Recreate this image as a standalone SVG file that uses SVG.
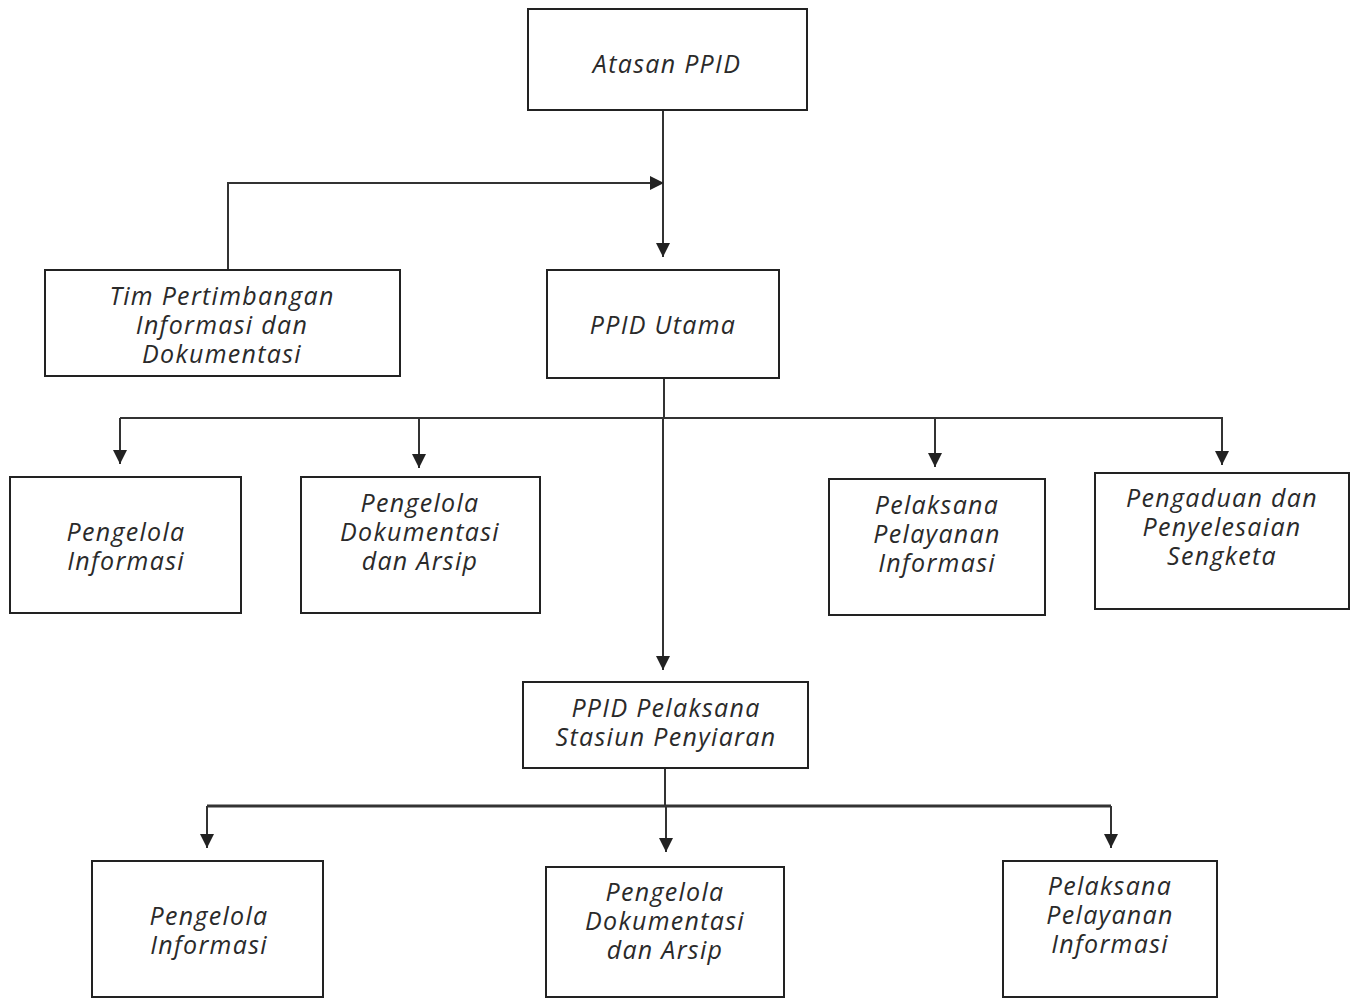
<svg xmlns="http://www.w3.org/2000/svg" width="1357" height="999" viewBox="0 0 1357 999">
<style>
.box{fill:#fff;stroke:#222;stroke-width:2}
.t{font-family:"Open Sans","Liberation Sans",sans-serif;font-style:italic;font-weight:400;font-size:25px;letter-spacing:1.3px;fill:#2a2a2a;text-anchor:middle}
.ln{fill:none;stroke:#333;stroke-width:2}
</style>
<defs>
<marker id="ar" viewBox="0 0 10 10" refX="10" refY="5" markerWidth="14" markerHeight="14" markerUnits="userSpaceOnUse" orient="auto">
<path d="M0,0 L10,5 L0,10 Z" fill="#222"/>
</marker>
</defs>
<rect width="1357" height="999" fill="#fff"/>
<g id="connectors">
<path class="ln" d="M663,110 V257" marker-end="url(#ar)"/>
<path class="ln" d="M228,270 V183 H664" marker-end="url(#ar)"/>
<path class="ln" d="M664,378 V418"/>
<path class="ln" d="M120,418 H1222 V465" marker-end="url(#ar)"/>
<path class="ln" d="M120,418 V464" marker-end="url(#ar)"/>
<path class="ln" d="M419,418 V468" marker-end="url(#ar)"/>
<path class="ln" d="M935,418 V467" marker-end="url(#ar)"/>
<path class="ln" d="M663,418 V670" marker-end="url(#ar)"/>
<path class="ln" d="M665,768 V806"/>
<path class="ln" d="M207,806 H1111" style="stroke-width:3"/>
<path class="ln" d="M207,806 V848" marker-end="url(#ar)"/>
<path class="ln" d="M666,806 V852" marker-end="url(#ar)"/>
<path class="ln" d="M1111,806 V848" marker-end="url(#ar)"/>
</g>
<g id="atasan"><rect class="box" x="528" y="9" width="279" height="101"/><text class="t" x="667" y="73">Atasan PPID</text></g>
<g id="tim"><rect class="box" x="45" y="270" width="355" height="106"/><text class="t"><tspan x="222" y="305">Tim Pertimbangan</tspan><tspan x="222" y="334">Informasi dan</tspan><tspan x="222" y="363">Dokumentasi</tspan></text></g>
<g id="utama"><rect class="box" x="547" y="270" width="232" height="108"/><text class="t" x="663" y="334">PPID Utama</text></g>
<g id="pi1"><rect class="box" x="10" y="477" width="231" height="136"/><text class="t"><tspan x="126" y="541">Pengelola</tspan><tspan x="126" y="570">Informasi</tspan></text></g>
<g id="pda1"><rect class="box" x="301" y="477" width="239" height="136"/><text class="t"><tspan x="420" y="512">Pengelola</tspan><tspan x="420" y="541">Dokumentasi</tspan><tspan x="420" y="570">dan Arsip</tspan></text></g>
<g id="ppi1"><rect class="box" x="829" y="479" width="216" height="136"/><text class="t"><tspan x="937" y="514">Pelaksana</tspan><tspan x="937" y="543">Pelayanan</tspan><tspan x="937" y="572">Informasi</tspan></text></g>
<g id="pps"><rect class="box" x="1095" y="473" width="254" height="136"/><text class="t"><tspan x="1222" y="507">Pengaduan dan</tspan><tspan x="1222" y="536">Penyelesaian</tspan><tspan x="1222" y="565">Sengketa</tspan></text></g>
<g id="pelaksana"><rect class="box" x="523" y="682" width="285" height="86"/><text class="t"><tspan x="666" y="717">PPID  Pelaksana</tspan><tspan x="666" y="746">Stasiun Penyiaran</tspan></text></g>
<g id="pi2"><rect class="box" x="92" y="861" width="231" height="136"/><text class="t"><tspan x="209" y="925">Pengelola</tspan><tspan x="209" y="954">Informasi</tspan></text></g>
<g id="pda2"><rect class="box" x="546" y="867" width="238" height="130"/><text class="t"><tspan x="665" y="901">Pengelola</tspan><tspan x="665" y="930">Dokumentasi</tspan><tspan x="665" y="959">dan Arsip</tspan></text></g>
<g id="ppi2"><rect class="box" x="1003" y="861" width="214" height="136"/><text class="t"><tspan x="1110" y="895">Pelaksana</tspan><tspan x="1110" y="924">Pelayanan</tspan><tspan x="1110" y="953">Informasi</tspan></text></g>
</svg>
